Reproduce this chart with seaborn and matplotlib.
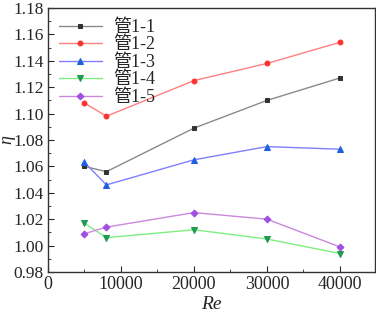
import matplotlib
matplotlib.use("Agg")
import matplotlib.pyplot as plt
import seaborn as sns
import pandas as pd
from matplotlib.ticker import MultipleLocator

re_vals = [5000, 8000, 20000, 30000, 40000]
tube_1_1 = [1.060, 1.056, 1.089, 1.110, 1.127]
tube_1_2 = [1.108, 1.098, 1.125, 1.138, 1.154]
tube_1_3 = [1.063, 1.046, 1.065, 1.075, 1.073]
tube_1_4 = [1.017, 1.006, 1.012, 1.005, 0.994]
tube_1_5 = [1.009, 1.014, 1.025, 1.020, 0.999]
labels = ["管1-1", "管1-2", "管1-3", "管1-4", "管1-5"]
series = [tube_1_1, tube_1_2, tube_1_3, tube_1_4, tube_1_5]

sns.set_style("ticks")
plt.rcParams['font.family'] = ['Liberation Serif', 'Noto Sans CJK SC']

rows = []
for lab, vals in zip(labels, series):
    for x, y in zip(re_vals, vals):
        rows.append({"Re": x, "eta": y, "tube": lab})
df = pd.DataFrame(rows)

line_colors = ["#8a8a8a", "#ff8080", "#8080ff", "#80ee80", "#cc88dd"]
marker_colors = ["#333333", "#ff3030", "#2060e0", "#209a50", "#a050e0"]
markers = ["s", "o", "^", "v", "D"]
msizes = [3.5, 3.5, 4.5, 4.5, 3.5]

fig = plt.figure(figsize=(3.76, 3.15), dpi=100)
ax = fig.add_axes([48/376, 43/315, (375-48)/376, (272-8)/315])

for lab, lc, mc, m, ms in zip(labels, line_colors, marker_colors, markers, msizes):
    sub = df[df.tube == lab]
    sns.lineplot(data=sub, x="Re", y="eta", ax=ax, color=lc, lw=1.0,
                 marker=m, markersize=ms, markerfacecolor=mc, markeredgecolor=mc,
                 label=lab)

ax.set_xlim(0, 44800)
ax.set_ylim(0.98, 1.18)
ax.xaxis.set_major_locator(MultipleLocator(10000))
ax.xaxis.set_minor_locator(MultipleLocator(5000))
ax.yaxis.set_major_locator(MultipleLocator(0.02))
ax.yaxis.set_minor_locator(MultipleLocator(0.01))
ax.yaxis.set_major_formatter(matplotlib.ticker.FormatStrFormatter('%.2f'))
ax.tick_params(which='both', direction='in', labelsize=12.5, top=False, right=False, pad=3)
ax.tick_params(axis='x', labelsize=13)
ax.tick_params(which='major', length=4)
ax.tick_params(which='minor', length=2)
for s in ax.spines.values():
    s.set_visible(True)
    s.set_linewidth(1.0)
    s.set_color("#333333")

ax.set_xlabel("Re", fontsize=14, style='italic', labelpad=2)
ax.set_ylabel("η", fontsize=13, style='italic', rotation=90)
ax.yaxis.set_label_coords(-33/327, 0.5)

leg = ax.legend(loc='upper left', frameon=False, fontsize=13, handlelength=2.4,
                borderaxespad=0.3, borderpad=0.3, labelspacing=0.03, handletextpad=0.6)

fig.savefig("out.png", dpi=100)
